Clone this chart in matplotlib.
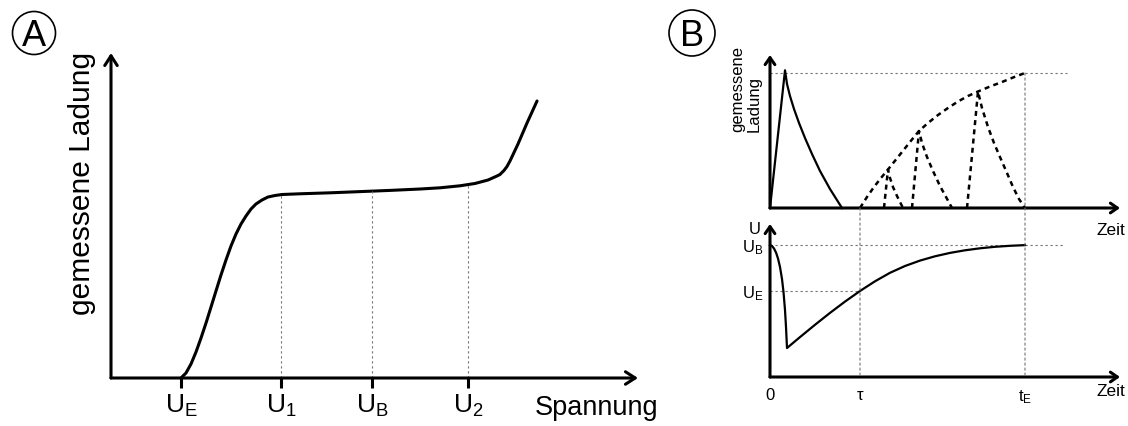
import numpy as np
import matplotlib
matplotlib.use('Agg')
import matplotlib.pyplot as plt
from matplotlib.patches import Circle, ConnectionPatch

plt.rcParams['font.family'] = ['Liberation Sans', 'DejaVu Sans']
plt.rcParams['mathtext.default'] = 'regular'

# --- panel A: gemessene Ladung vs Spannung (arbitrary units 0..100)
spannung = [13.28, 14.23, 15.18, 16.13, 17.08, 18.03, 18.98, 19.92, 20.87, 21.82,
            22.77, 23.72, 24.67, 25.62, 26.57, 27.51, 28.65, 29.79, 31.12, 32.45,
            35.86, 41.56, 47.25, 52.94, 58.63, 62.43, 66.22, 69.07, 71.54, 73.24,
            73.81, 74.57, 75.14, 75.71, 77.23, 78.94, 80.84]
ladung = [0.0, 1.54, 4.31, 8.0, 12.31, 16.92, 21.85, 26.77, 31.69, 36.31,
          40.62, 44.31, 47.38, 49.85, 52.0, 53.54, 54.77, 55.69, 56.15, 56.46,
          56.68, 56.98, 57.35, 57.72, 58.15, 58.52, 59.14, 59.85, 60.92, 62.15,
          62.62, 63.85, 65.08, 66.77, 72.0, 78.46, 85.23]
a_ticks = [13.28, 32.26, 49.53, 67.74]
a_labels = ['U$_E$', 'U$_1$', 'U$_B$', 'U$_2$']

# --- panel B top: measured charge vs time
first_t = [0.0, 4.29, 4.86, 5.71, 6.86, 8.29, 10.0, 12.0, 14.29, 17.14, 20.57]
first_q = [0.0, 90.0, 81.05, 73.2, 64.7, 55.56, 45.75, 35.29, 24.18, 12.42, 0.0]
env_t = [25.71, 27.71, 29.71, 31.71, 33.71, 36.0, 38.29, 40.57, 42.57, 45.14,
         48.0, 50.86, 53.71, 56.57, 59.43, 62.86, 66.29, 69.43, 72.86]
env_q = [0.0, 7.19, 13.73, 19.61, 25.16, 31.7, 38.24, 44.77, 50.33, 55.56,
         60.78, 65.36, 69.61, 73.2, 76.14, 79.41, 82.35, 85.29, 88.24]
spike1_t = [32.57, 33.71, 34.29, 35.14, 36.29, 38.0]
spike1_q = [0.0, 25.16, 19.61, 13.73, 7.84, 0.0]
spike2_t = [40.57, 42.57, 43.43, 44.86, 46.57, 48.57, 50.29, 52.0]
spike2_q = [0.0, 50.33, 42.48, 33.33, 24.18, 14.38, 7.19, 0.0]
spike3_t = [56.29, 59.43, 60.57, 62.29, 64.0, 65.71, 67.71, 69.43, 71.14, 72.86]
spike3_q = [0.0, 76.14, 65.36, 52.94, 42.48, 33.33, 22.88, 13.73, 5.88, 0.0]

# --- panel B bottom: voltage vs time
u_t = [0.0, 0.571, 1.143, 1.714, 2.286, 2.857, 3.429, 3.857, 4.286, 4.571, 4.857,
       8.571, 12.857, 17.143, 21.429, 25.714, 30.0, 34.286, 38.571, 42.857,
       47.143, 51.429, 55.714, 60.0, 64.286, 68.571, 72.857]
u_v = [86.27, 85.62, 83.99, 81.37, 77.45, 71.9, 64.05, 55.56, 43.79, 32.68, 18.95,
       26.08, 34.12, 41.9, 49.28, 56.21, 62.55, 68.1, 72.55, 76.08,
       78.89, 81.11, 82.81, 84.12, 85.1, 85.75, 86.2]
U_B = 86.27
U_E = 56.21
tau = 25.71
t_E = 72.86

W, H = 1128, 426
fig = plt.figure(figsize=(W / 100, H / 100), dpi=100)


def rect(l, r, b, t):
    return [l / W, 1 - b / H, (r - l) / W, (b - t) / H]


def arrow_axes(ax, lw, hl, hw):
    style = '->,head_length=%s,head_width=%s' % (hl, hw)
    for tip in [(1, 0), (0, 1)]:
        ax.annotate('', xy=tip, xytext=(0, 0), xycoords='axes fraction',
                    arrowprops=dict(arrowstyle=style, lw=lw, color='k',
                                    shrinkA=0, shrinkB=0))
    for s in ax.spines.values():
        s.set_visible(False)
    ax.patch.set_visible(False)


dot = dict(color='0.45', lw=0.8, linestyle=(0, (2, 2.5)))

# ---------------- A
axA = fig.add_axes(rect(111, 638, 378, 53))
axA.set_xlim(0, 100)
axA.set_ylim(0, 100)
arrow_axes(axA, 2.2, 0.7, 0.45)
axA.plot(spannung, ladung, color='k', lw=2.2, clip_on=False, solid_capstyle='round')
for x in a_ticks[1:]:
    axA.vlines(x, 0, np.interp(x, spannung, ladung), **dot)
axA.set_xticks(a_ticks, a_labels)
axA.set_yticks([])
axA.tick_params(axis='x', direction='out', length=7, width=2.2, pad=4, labelsize=19)
axA.text(0.8046, -0.114, 'Spannung', transform=axA.transAxes, fontsize=19.5,
         ha='left', va='baseline')
axA.text(-0.055, 0.6, 'gemessene Ladung', transform=axA.transAxes, fontsize=21.5,
         rotation=90, ha='center', va='center')

# ---------------- B top
axT = fig.add_axes(rect(770, 1120, 208, 55))
axT.set_xlim(0, 100)
axT.set_ylim(0, 100)
arrow_axes(axT, 2.2, 0.5, 0.35)
axT.set_xticks([])
axT.set_yticks([])
dash = dict(color='k', lw=1.8, linestyle=(0, (2, 1.7)), clip_on=False)
axT.hlines(max(env_q), 0, 85, **dot)
axT.plot(first_t, first_q, color='k', lw=1.6, clip_on=False)
axT.plot(env_t, env_q, **dash)
axT.plot(spike1_t, spike1_q, **dash)
axT.plot(spike2_t, spike2_q, **dash)
axT.plot(spike3_t, spike3_q, **dash)
axT.text(-0.069, 0.497, 'gemessene\nLadung', transform=axT.transAxes, fontsize=12,
         rotation=90, ha='center', va='bottom', multialignment='left', linespacing=1.1)
axT.text(1.014, -0.15, 'Zeit', transform=axT.transAxes, fontsize=12.5,
         ha='right', va='center')

# ---------------- B bottom
axB = fig.add_axes(rect(770, 1120, 377, 224))
axB.set_xlim(0, 100)
axB.set_ylim(0, 100)
arrow_axes(axB, 2.2, 0.5, 0.35)
axB.hlines(U_B, 0, 84, **dot)
axB.hlines(U_E, 0, tau, **dot)
axB.plot(u_t, u_v, color='k', lw=1.6, clip_on=False)
axB.set_xticks([0, tau, t_E], ['0', 'τ', 't$_E$'])
axB.set_yticks([U_E, U_B], ['U$_E$', 'U$_B$'])
axB.tick_params(axis='both', length=0, labelsize=12)
axB.tick_params(axis='x', pad=8)
axB.tick_params(axis='y', pad=5)
axB.text(-0.025, 0.965, 'U', transform=axB.transAxes, fontsize=12,
         ha='right', va='center')
axB.text(1.014, -0.098, 'Zeit', transform=axB.transAxes, fontsize=12.5,
         ha='right', va='center')

# guide lines connecting both B panels
for xa, ya in [(tau, 0), (t_E, max(env_q))]:
    con = ConnectionPatch(xyA=(xa, ya), coordsA=axT.transData,
                          xyB=(xa, 0), coordsB=axB.transData, **dot)
    fig.add_artist(con)

# panel letters
for cx, cy, r, letter in [(34, 33, 21.5, 'A'), (692, 33, 23, 'B')]:
    fig.add_artist(Circle((cx / 100, (H - cy) / 100), r / 100,
                          transform=fig.dpi_scale_trans, fill=False, lw=1.2, color='k'))
    fig.text(cx / W, 1 - (cy + 13) / H, letter, ha='center', va='baseline', fontsize=26)

fig.savefig('out.png', dpi=100)
